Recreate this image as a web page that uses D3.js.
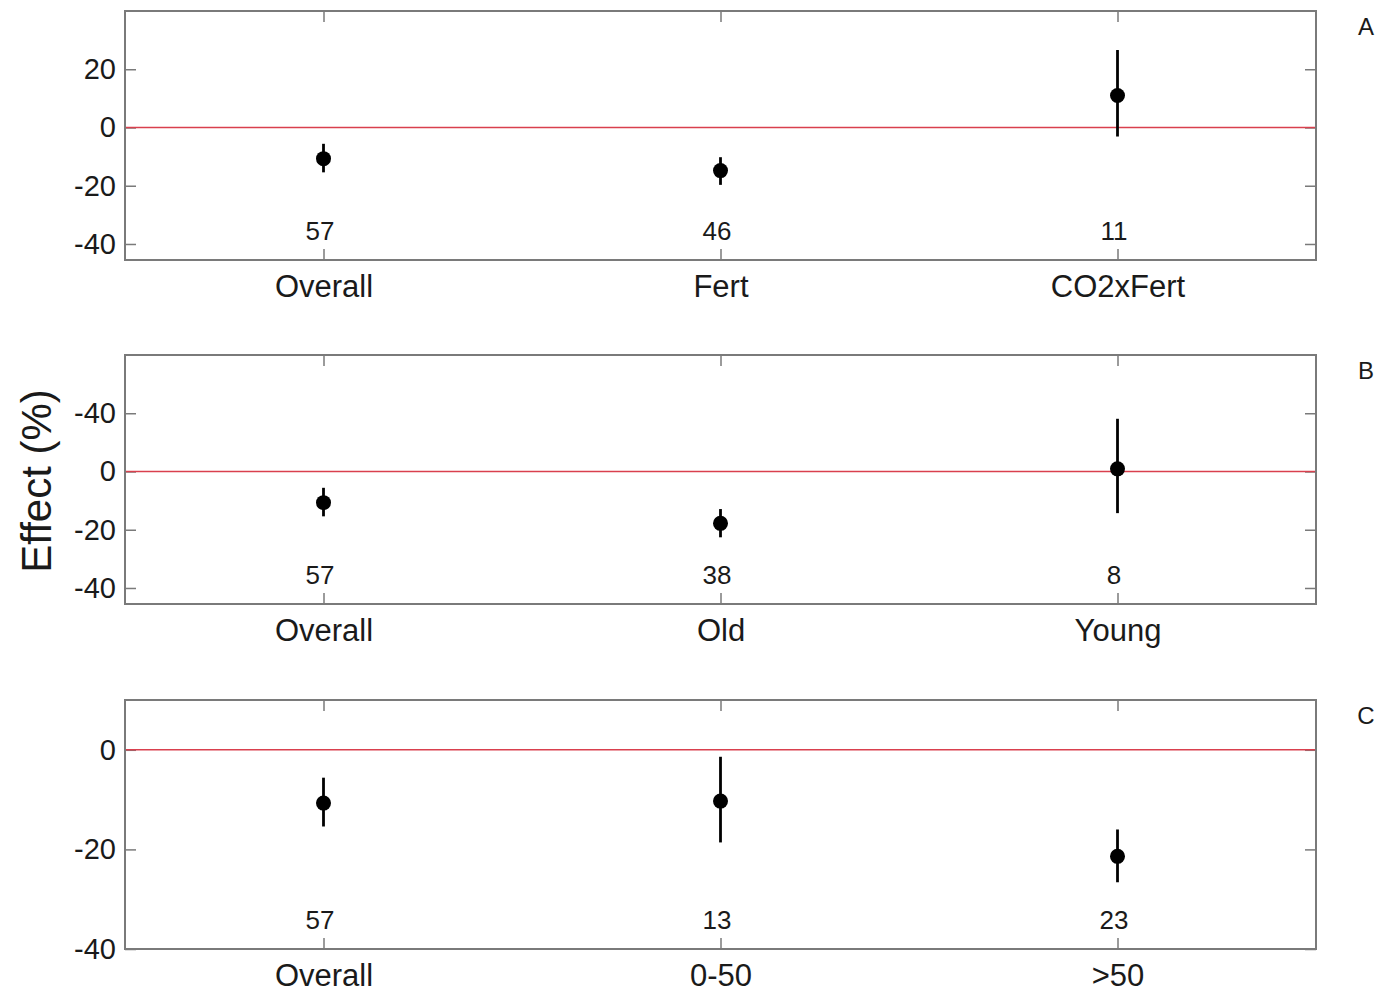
<!DOCTYPE html>
<html>
<head>
<meta charset="utf-8">
<script src="https://cdn.jsdelivr.net/npm/d3@7"></script>
<style>
  html, body { margin: 0; padding: 0; background: #fff; }
  svg { display: block; font-family: "Liberation Sans", Arial, Helvetica, sans-serif; }
</style>
</head>
<body>
<svg id="chart" width="1385" height="994"></svg>
<script>
// Panel A: treatment type
const categoriesA = ["Overall", "Fert", "CO2xFert"];
const meanA = [-10.7, -14.8, 11.0];
const lowA  = [-15.4, -19.7, -3.1];
const highA = [-5.6, -10.2, 26.6];
const countA = [57, 46, 11];

// Panel B: stand age
const categoriesB = ["Overall", "Old", "Young"];
const meanB = [-10.7, -17.8, 0.9];
const lowB  = [-15.4, -22.6, -14.3];
const highB = [-5.6, -12.9, 18.1];
const countB = [57, 38, 8];

// Panel C: fertilisation rate
const categoriesC = ["Overall", "0-50", ">50"];
const meanC = [-10.7, -10.3, -21.4];
const lowC  = [-15.4, -18.6, -26.6];
const highC = [-5.6, -1.4, -16.0];
const countC = [57, 13, 23];

// y-axis ticks and their printed labels
const tickValuesAB = [20, 0, -20, -40];
const tickLabelsA = ["20", "0", "-20", "-40"];
const tickLabelsB = ["-40", "0", "-20", "-40"];
const tickValuesC = [0, -20, -40];
const tickLabelsC = ["0", "-20", "-40"];
const domainAB = [-45.5, 40];
const domainC = [-40, 10];

const panelLetters = ["A", "B", "C"];
const yTitle = "Effect (%)";

const panels = [
  { cats: categoriesA, mean: meanA, low: lowA, high: highA, n: countA,
    ticks: tickValuesAB, labels: tickLabelsA, domain: domainAB, letter: panelLetters[0], top: 11 },
  { cats: categoriesB, mean: meanB, low: lowB, high: highB, n: countB,
    ticks: tickValuesAB, labels: tickLabelsB, domain: domainAB, letter: panelLetters[1], top: 355 },
  { cats: categoriesC, mean: meanC, low: lowC, high: highC, n: countC,
    ticks: tickValuesC, labels: tickLabelsC, domain: domainC, letter: panelLetters[2], top: 700 }
];

const svg = d3.select("#chart");
const left = 125, right = 1316, panelH = 249;
const frameColor = "#7a7a7a";
const textColor = "#1a1a1a";

panels.forEach(p => {
  const g = svg.append("g").attr("transform", `translate(0,${p.top})`);

  const x = d3.scalePoint().domain(p.cats).range([left, right]).padding(0.5);
  const y = d3.scaleLinear().domain(p.domain).range([panelH, 0]);

  // y ticks, left and right, pointing inward
  const fmt = (d, i) => p.labels[i];
  const yl = g.append("g").attr("transform", `translate(${left},0)`)
    .call(d3.axisLeft(y).tickValues(p.ticks).tickFormat(fmt).tickSizeInner(-11).tickSizeOuter(0).tickPadding(9));
  const yr = g.append("g").attr("transform", `translate(${right},0)`)
    .call(d3.axisRight(y).tickValues(p.ticks).tickFormat("").tickSizeInner(-11).tickSizeOuter(0));

  // x ticks, bottom and top, pointing inward
  const xb = g.append("g").attr("transform", `translate(0,${panelH})`)
    .call(d3.axisBottom(x).tickSizeInner(-11).tickSizeOuter(0));
  const xt = g.append("g")
    .call(d3.axisTop(x).tickFormat("").tickSizeInner(-11).tickSizeOuter(0));

  [yl, yr, xb, xt].forEach(a => {
    a.select(".domain").remove();
    a.selectAll(".tick line").attr("stroke", frameColor).attr("stroke-width", 1.5);
    a.selectAll(".tick text").attr("fill", textColor);
  });
  yl.selectAll(".tick text").attr("font-size", 29);
  xb.selectAll(".tick text").attr("font-size", 31).attr("y", 37).attr("dy", 0);

  // zero reference line
  g.append("line")
    .attr("x1", left).attr("x2", right)
    .attr("y1", y(0)).attr("y2", y(0))
    .attr("stroke", "#d9404e").attr("stroke-width", 1.6);

  // frame
  g.append("rect")
    .attr("x", left).attr("y", 0)
    .attr("width", right - left).attr("height", panelH)
    .attr("fill", "none").attr("stroke", frameColor).attr("stroke-width", 2);

  // error bars, means and sample sizes
  p.cats.forEach((c, i) => {
    g.append("line")
      .attr("x1", x(c)).attr("x2", x(c))
      .attr("y1", y(p.low[i])).attr("y2", y(p.high[i]))
      .attr("stroke", "#000").attr("stroke-width", 2.8);
    g.append("circle")
      .attr("cx", x(c)).attr("cy", y(p.mean[i]))
      .attr("r", 7.5).attr("fill", "#000");
    g.append("text")
      .attr("x", x(c) - 3.5).attr("y", panelH - 20)
      .attr("text-anchor", "middle")
      .attr("font-size", 26).attr("fill", textColor)
      .text(p.n[i]);
  });

  // panel letter
  g.append("text")
    .attr("x", 1366).attr("y", 24)
    .attr("text-anchor", "middle")
    .attr("font-size", 24).attr("fill", textColor)
    .text(p.letter);
});

// shared y-axis title
svg.append("text")
  .attr("transform", "translate(51,481) rotate(-90)")
  .attr("text-anchor", "middle")
  .attr("font-size", 42).attr("fill", textColor)
  .text(yTitle);
</script>
</body>
</html>
